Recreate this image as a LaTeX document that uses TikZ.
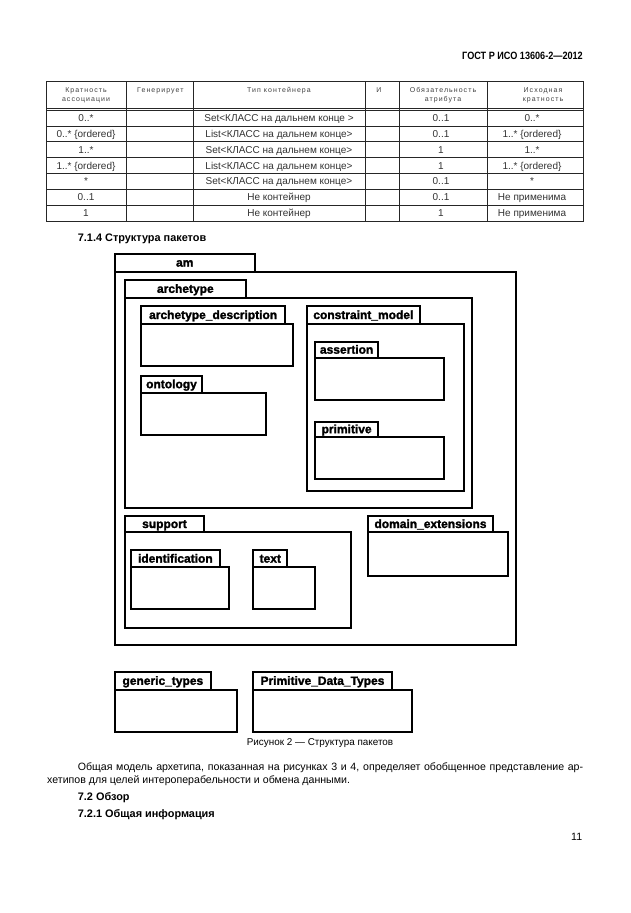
\documentclass[tikz,border=0pt]{standalone}
\usepackage{fontspec}
\setmainfont{Liberation Sans}
\newfontfamily\hdrfont[LetterSpace=15]{Liberation Sans}
\newfontfamily\pkgfont[FakeBold=1.8]{Liberation Sans Bold}
\newfontfamily\gostfont[FakeStretch=0.86]{Liberation Sans Bold}
\usetikzlibrary{positioning}

\begin{document}
\begin{tikzpicture}[x=1pt, y=-1pt,
    pkgtab/.style={draw, line width=2pt, inner sep=0pt, outer sep=0pt, anchor=north west,
        font=\fontsize{12}{12}\pkgfont, text height=9pt, text depth=1pt},
    pkgbody/.style={draw, line width=2pt, inner sep=0pt, outer sep=0pt},
    grid/.style={line width=0.6pt, black!85},
    cell/.style={inner sep=0pt, anchor=base, font=\fontsize{10}{10}\selectfont, text=black!80},
    headcell/.style={inner sep=0pt, anchor=base, font=\fontsize{7}{7}\hdrfont, text=black!75},
    bodytext/.style={inner sep=0pt, anchor=base west, font=\fontsize{10.6}{12}\selectfont},
    heading/.style={bodytext, font=\fontsize{10.9}{12}\selectfont\bfseries}
]

% Page
\fill[white] (0,0) rectangle (630,913);
\useasboundingbox (0,0) rectangle (630,913);

% Running header
\node[bodytext, anchor=base east, font=\fontsize{10.6}{12}\gostfont] (gost) at (583,59) {ГОСТ Р ИСО 13606-2—2012};

% Table grid
\draw[grid] (46,81.7) rectangle (583,221);
\draw[grid] (46,108.2) -- (583,108.2);
\draw[grid] (46,110.2) -- (583,110.2);
\foreach \y in {125.9,141.7,157.6,173.4,189.3,205.1}
    \draw[grid] (46,\y) -- (583,\y);
\foreach \x in {126,193,365,399,487}
    \draw[grid] (\x,81.7) -- (\x,221);

% Table header
\node[headcell] (hmult1) at (86,92.5) {Кратность};
\node[headcell] (hmult2) at (86,101.5) {ассоциации};
\node[headcell, anchor=base west] (hgen) at (137,92.5) {Генерирует};
\node[headcell] (hkind) at (279,92.5) {Тип контейнера};
\node[headcell] (hand) at (379,92.5) {И};
\node[headcell] (hobl1) at (443,92.5) {Обязательность};
\node[headcell] (hobl2) at (443,101.5) {атрибута};
\node[headcell] (horig1) at (543,92.5) {Исходная};
\node[headcell] (horig2) at (543,101.5) {кратность};

% Table rows
\foreach \mult/\kind/\oblig/\orig [count=\r] in {
    {0..*}/{Set<КЛАСС на дальнем конце >}/{0..1}/{0..*},
    {0..* \{ordered\}}/{List<КЛАСС на дальнем конце>}/{0..1}/{1..* \{ordered\}},
    {1..*}/{Set<КЛАСС на дальнем конце>}/{1}/{1..*},
    {1..* \{ordered\}}/{List<КЛАСС на дальнем конце>}/{1}/{1..* \{ordered\}},
    {*}/{Set<КЛАСС на дальнем конце>}/{0..1}/{*},
    {0..1}/{Не контейнер}/{0..1}/{Не применима},
    {1}/{Не контейнер}/{1}/{Не применима}} {
    \pgfmathsetmacro\yb{110.2+(\r-0.5)*15.83+3.5}
    \node[cell] (mult\r) at (86,\yb) {\mult};
    \node[cell] (kind\r) at (279,\yb) {\kind};
    \node[cell] (oblig\r) at (441,\yb) {\oblig};
    \node[cell] (orig\r) at (532,\yb) {\orig};
}

% Section heading
\node[heading] (sec714) at (77.7,241) {7.1.4 Структура пакетов};

% Package am
\node[pkgtab, minimum width=139.5pt, minimum height=18.2pt] (amtab) at (115,253.5) {am};
\node[pkgbody, minimum width=401pt, minimum height=373.3pt, below right=0pt of amtab.south west] (am) {};

% Package archetype and its subpackages
\node[pkgtab, minimum width=120.7pt, minimum height=17.7pt] (archtab) at (125,280) {archetype};
\node[pkgbody, minimum width=346.7pt, minimum height=210pt, below right=0pt of archtab.south west] (arch) {};

\node[pkgtab, minimum width=144.3pt, minimum height=18pt] (desctab) at (141,306) {archetype\_description};
\node[pkgbody, minimum width=152.3pt, minimum height=42pt, below right=0pt of desctab.south west] (desc) {};

\node[pkgtab, minimum width=61pt, minimum height=17pt] (ontotab) at (141,375.7) {ontology};
\node[pkgbody, minimum width=124.7pt, minimum height=42.3pt, below right=0pt of ontotab.south west] (onto) {};

\node[pkgtab, minimum width=113.3pt, minimum height=18pt] (constrtab) at (306.7,306) {constraint\_model};
\node[pkgbody, minimum width=157.3pt, minimum height=167pt, below right=0pt of constrtab.south west] (constr) {};

\node[pkgtab, minimum width=63.3pt, minimum height=16pt] (asserttab) at (315,341.7) {assertion};
\node[pkgbody, minimum width=129pt, minimum height=42.3pt, below right=0pt of asserttab.south west] (assert) {};

\node[pkgtab, minimum width=63.3pt, minimum height=15pt] (primtab) at (315,421.7) {primitive};
\node[pkgbody, minimum width=129pt, minimum height=42.3pt, below right=0pt of primtab.south west] (prim) {};

% Package support and its subpackages
\node[pkgtab, minimum width=79pt, minimum height=16.6pt] (supptab) at (125,515.7) {support};
\node[pkgbody, minimum width=225.7pt, minimum height=96pt, below right=0pt of supptab.south west] (supp) {};

\node[pkgtab, minimum width=89.3pt, minimum height=17.3pt] (identtab) at (130.7,550) {identification};
\node[pkgbody, minimum width=98.3pt, minimum height=41.7pt, below right=0pt of identtab.south west] (ident) {};

\node[pkgtab, minimum width=34pt, minimum height=17.3pt] (texttab) at (253.3,550) {text};
\node[pkgbody, minimum width=61.7pt, minimum height=41.7pt, below right=0pt of texttab.south west] (text) {};

% Package domain_extensions
\node[pkgtab, minimum width=125.6pt, minimum height=16.6pt] (domtab) at (367.7,515.7) {domain\_extensions};
\node[pkgbody, minimum width=140.6pt, minimum height=43.7pt, below right=0pt of domtab.south west] (dom) {};

% Packages outside am
\node[pkgtab, minimum width=96.7pt, minimum height=18.3pt] (generictab) at (114.5,671.7) {generic\_types};
\node[pkgbody, minimum width=122.2pt, minimum height=42.3pt, below right=0pt of generictab.south west] (generic) {};

\node[pkgtab, minimum width=138.4pt, minimum height=18.3pt] (pdttab) at (253.3,671.7) {Primitive\_Data\_Types};
\node[pkgbody, minimum width=158.4pt, minimum height=42.3pt, below right=0pt of pdttab.south west] (pdt) {};

% Caption
\node[bodytext, anchor=base, font=\fontsize{9.9}{11}\selectfont] (caption) at (320,745) {Рисунок 2 — Структура пакетов};

% Paragraph and headings
\node[bodytext] (para1) at (77.7,770) {\makebox[505.3pt][s]{Общая модель архетипа, показанная на рисунках 3 и 4, определяет обобщенное представление ар-}};
\node[bodytext] (para2) at (47,783) {хетипов для целей интероперабельности и обмена данными.};
\node[heading] (sec72) at (77.7,800) {7.2 Обзор};
\node[heading] (sec721) at (77.7,817) {7.2.1 Общая информация};

% Page number
\node[bodytext] (pageno) at (571,840) {11};

\end{tikzpicture}
\end{document}
